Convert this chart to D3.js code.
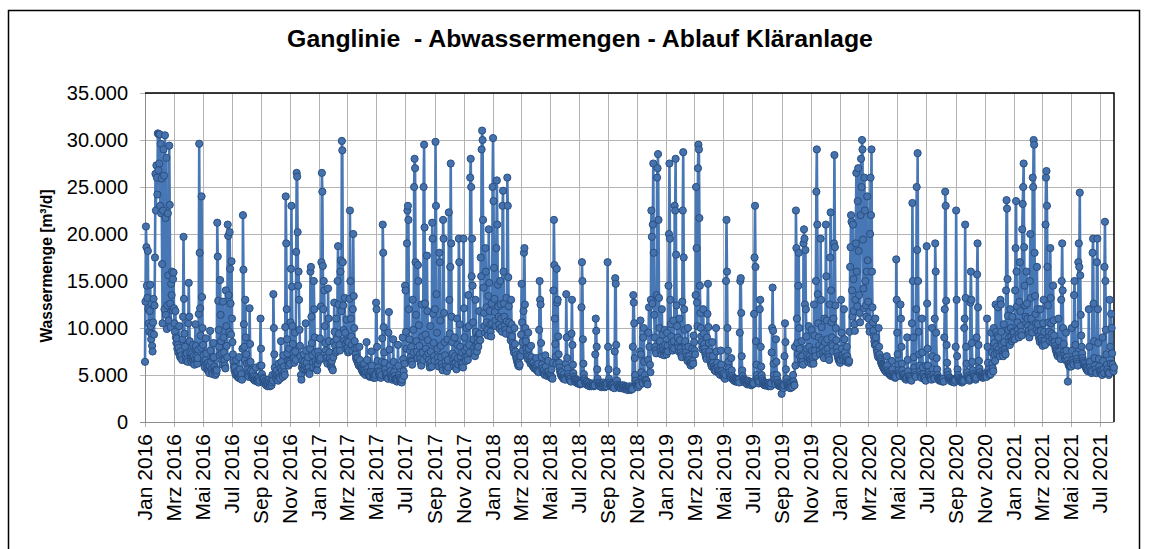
<!DOCTYPE html>
<html>
<head>
<meta charset="utf-8">
<script src="https://cdn.jsdelivr.net/npm/d3@7"></script>
<style>
  body { margin: 0; background: #fff; }
  text { font-family: "Liberation Sans", Arial, sans-serif; }
</style>
</head>
<body>
<div id="chart"></div>
<script>
// daily outflow in 1000 m³/d, one inner array per month
var flow2016 = [
  [6.4,12.8,20.8,18.6,14.5,13.2,18.2,12.0,10.5,9.6,11.8,14.6,10.2,8.8,9.4,8.1,7.5,10.6,13.1,9.3,12.4,17.5,26.4,22.5,27.3,26.0,24.2,30.7,26.8,30.6,27.5],
  [30.6,23.0,29.6,22.2,25.9,16.8,10.5,22.5,29.0,26.2,12.0,30.5,21.7,11.4,28.1,9.9,12.4,22.2,15.6,10.8,29.4,23.1,12.6,10.1,14.7,13.5,16.0,11.9,15.2],
  [15.9,12.1,10.5,9.6,11.8,9.0,8.4,8.9,7.8,8.2,7.4,7.9,10.2,7.2,6.9,7.5,6.8,7.1,6.6,8.8,11.2,19.7,13.1,9.4,8.0,7.2,6.9,6.5,7.3,6.7,6.4],
  [10.5,14.8,11.2,8.6,7.4,6.8,6.5,7.2,6.3,6.9,8.2,7.0,6.4,6.1,6.7,10.4,8.1,7.0,6.6,6.2,6.8,7.7,11.5,29.6,18.0,12.1,9.2,7.9,24.0,13.3],
  [10.0,8.2,7.1,6.5,6.0,5.8,6.6,8.9,7.3,6.2,5.7,5.5,6.3,5.4,5.2,6.0,9.7,7.6,6.4,5.6,5.3,5.1,6.8,8.4,6.9,5.9,5.4,5.0,5.6,5.2,5.5],
  [21.2,17.6,12.9,9.8,8.0,7.1,15.1,11.4,8.6,7.3,6.5,6.1,12.8,9.0,7.4,6.6,6.0,5.7,14.0,10.2,8.1,6.9,21.0,19.8,13.5,9.6,20.2,16.3,12.6,9.3],
  [17.1,11.0,8.5,7.2,6.4,5.9,5.5,5.8,5.2,5.0,6.6,5.4,4.9,4.8,5.3,4.7,6.9,5.6,4.9,4.6,4.8,5.1,4.5,7.8,22.0,16.2,10.4,8.0,6.6,13.0,9.0],
  [7.2,6.2,5.6,5.2,5.0,4.8,6.3,12.1,8.3,6.4,5.5,5.0,4.8,4.7,5.4,4.6,4.5,4.9,4.4,4.6,5.8,4.8,4.5,4.3,4.6,4.4,4.2,4.7,4.4,6.0,11.0],
  [7.8,6.0,5.1,4.7,4.5,4.3,4.6,4.2,4.1,4.4,4.0,3.9,4.3,4.1,3.8,4.0,4.5,4.2,3.9,3.8,4.1,4.4,3.9,4.2,5.0,4.4,13.6,10.0,7.2,5.8],
  [5.1,4.8,4.6,5.5,4.9,4.6,4.4,6.2,5.2,4.8,4.6,5.7,8.6,6.4,5.5,5.0,4.8,7.1,5.9,5.3,5.0,10.1,24.0,19.0,12.0,8.8,7.3,6.5,6.0,7.8,6.4],
  [6.2,10.6,16.3,23.0,14.4,10.2,8.3,7.4,6.8,6.3,9.5,7.5,6.6,18.1,26.5,26.1,20.2,14.5,16.0,13.0,9.8,8.1,7.0,5.0,4.5,5.8,6.5,6.1,5.6,7.2],
  [6.4,5.9,5.6,10.5,7.6,6.3,5.7,5.4,6.9,5.8,5.3,5.1,7.8,16.0,16.5,11.2,8.4,7.1,6.3,5.8,15.0,12.0,9.0,7.4,6.5,6.0,5.6,5.5,6.2,7.5,6.6]
];
var flow2017 = [
  [7.0,6.6,8.9,6.8,12.3,17.0,26.5,24.5,16.6,12.0,15.0,14.0,10.2,8.4,7.6,7.1,6.8,6.4,6.2,14.2,11.0,8.6,7.4,6.8,6.3,6.0,5.8,6.5,5.7,5.5,6.9],
  [8.5,12.7,9.6,8.1,7.4,11.0,8.8,7.6,15.0,18.7,12.5,9.4,8.2,7.6,16.0,17.2,11.8,29.9,28.9,17.0,12.4,9.8,8.7,13.2,9.5,8.3,7.8,10.9],
  [8.6,7.9,7.4,8.5,7.6,13.1,22.5,15.0,11.0,9.1,8.2,7.6,12.0,20.0,13.4,10.0,8.6,7.8,7.2,6.8,6.6,7.9,6.8,6.3,6.1,6.0,8.0,6.6,6.0,5.8,5.7],
  [5.6,5.4,5.5,5.3,5.2,6.2,5.5,5.1,5.0,5.3,8.5,6.6,5.7,5.3,5.0,4.9,5.2,4.8,4.9,5.4,7.5,6.0,5.3,5.0,4.8,4.7,5.1,4.9,4.7,5.0],
  [12.7,12.0,8.0,6.5,5.8,5.4,5.1,4.9,5.3,4.8,4.7,5.0,6.4,8.9,21.0,18.0,10.1,7.4,6.3,5.6,5.2,4.9,4.8,5.1,4.7,4.6,9.5,11.7,7.7,6.0,5.4],
  [5.0,4.8,4.6,4.5,4.7,8.8,6.4,5.3,4.9,4.6,4.5,4.4,4.6,4.3,4.5,8.2,6.0,5.0,4.7,4.5,4.3,4.4,4.6,4.2,4.5,9.0,6.7,5.4,4.9,6.2],
  [14.5,14.0,9.6,7.8,19.0,22.5,23.0,21.5,12.0,8.8,7.6,6.9,6.5,8.0,6.4,6.1,13.0,9.8,7.4,25.0,28.0,27.0,17.0,11.4,8.6,7.5,6.8,16.7,15.0,10.3,8.1],
  [7.2,6.7,6.3,6.0,12.5,9.1,7.4,6.6,25.0,29.5,20.7,12.6,9.3,7.8,7.0,17.7,11.8,8.7,7.3,6.6,6.1,5.8,10.2,7.5,6.4,5.9,21.2,19.5,11.5,8.4,7.0],
  [6.5,12.0,29.8,23.0,13.6,9.5,7.8,6.9,6.3,5.9,18.0,17.0,10.8,8.1,6.9,6.2,5.8,5.5,21.5,19.5,11.6,8.5,7.1,6.4,5.9,5.6,5.4,8.8,6.6,5.8],
  [22.3,13.0,9.4,16.5,27.5,19.0,11.2,8.5,7.3,6.6,6.2,5.9,9.0,7.0,6.2,5.8,5.6,11.0,8.2,6.8,6.1,19.5,17.0,10.4,8.0,6.9,6.3,5.9,7.4,6.2,5.8],
  [19.5,12.1,9.0,7.6,6.9,6.5,10.0,7.9,7.0,6.6,13.5,10.2,8.2,7.4,26.0,28.0,25.0,15.5,19.5,14.5,10.6,8.8,7.9,7.4,7.0,13.0,9.6,8.2,7.5,8.9],
  [8.4,8.0,9.3,11.8,9.4,8.7,17.5,15.5,29.0,31.0,30.0,21.5,14.3,11.6,10.2,9.5,18.5,16.0,12.2,10.6,9.8,9.2,13.4,20.5,14.8,11.8,10.4,9.6,9.1,12.6,10.5]
];
var flow2018 = [
  [25.0,30.2,23.5,16.4,13.1,11.7,10.8,10.2,18.5,25.7,21.0,14.6,12.3,11.2,10.4,9.9,15.0,12.5,11.0,10.1,9.6,23.0,24.6,16.0,12.6,11.2,10.3,9.8,9.4,13.2,10.7],
  [26.0,23.0,15.4,12.3,10.6,9.8,9.2,8.7,13.0,10.4,9.1,8.4,8.0,7.7,7.4,10.0,8.3,7.5,7.1,6.8,6.6,6.4,6.2,6.0,6.3,5.9,6.1,7.2],
  [7.0,9.3,14.7,10.6,8.5,7.6,11.8,18.0,18.5,12.5,10.0,8.6,7.8,7.3,7.0,6.7,9.5,7.8,7.0,6.6,6.4,6.2,8.1,6.9,6.4,6.1,5.9,6.3,5.8,5.7,6.0],
  [5.8,5.6,6.8,5.9,5.5,5.4,6.2,5.3,9.8,15.0,13.0,12.5,8.4,6.9,6.1,5.7,5.4,5.2,5.5,5.1,5.0,7.1,5.9,5.3,5.0,4.9,5.2,6.5,5.4,5.0],
  [4.9,4.8,5.0,4.7,5.6,4.8,4.6,6.3,14.0,21.5,16.7,11.0,8.3,7.0,6.2,16.3,12.7,13.0,9.1,7.2,6.3,5.8,5.4,5.2,5.0,4.9,5.3,4.8,4.7,4.6,5.1],
  [4.7,4.6,4.5,6.2,13.6,9.0,6.8,5.7,5.1,4.8,4.6,4.5,4.4,4.6,4.3,9.4,13.0,8.2,6.1,5.2,4.8,4.6,4.5,4.3,4.4,4.2,4.5,4.3,4.1,4.4],
  [4.2,4.1,4.3,4.0,4.2,4.1,12.2,17.0,15.0,8.8,6.2,5.1,4.6,4.4,4.2,4.1,4.0,4.3,4.1,3.9,4.0,4.2,3.9,3.8,4.0,4.1,3.9,3.8,4.0,3.9,4.1],
  [3.9,3.8,4.0,3.9,7.2,11.0,9.7,8.0,5.6,4.6,4.2,4.0,3.9,3.8,4.1,3.9,3.8,3.7,4.0,3.9,3.8,4.2,4.0,3.9,3.7,3.8,4.0,3.9,3.8,4.1,17.0],
  [8.0,5.6,4.6,4.2,4.0,3.9,3.8,4.0,3.9,3.7,3.8,3.9,3.7,3.6,7.5,15.3,14.7,8.2,5.4,4.4,4.0,3.8,3.7,3.9,3.8,3.6,3.7,3.8,3.6,3.9],
  [3.8,3.7,3.6,3.9,3.7,3.5,3.6,3.8,3.7,3.5,3.6,3.4,3.7,3.6,3.5,3.8,3.6,3.4,3.5,3.7,3.6,3.5,8.0,13.5,12.7,10.5,6.8,5.0,4.4,4.1,3.9],
  [3.8,3.9,3.7,4.0,4.2,3.9,7.5,10.8,7.2,5.3,4.6,4.3,4.1,9.0,10.0,6.4,5.0,4.5,4.3,4.2,4.4,4.1,4.0,6.6,9.5,12.2,8.0,6.1,5.3,13.0],
  [22.5,19.7,12.6,21.0,27.5,18.0,11.4,9.0,8.0,7.6,7.3,13.5,26.0,27.0,28.5,21.5,13.2,10.0,8.6,7.9,7.5,7.2,12.0,9.3,8.0,7.6,7.3,7.1,9.8,8.2,7.5]
];
var flow2019 = [
  [7.4,7.2,9.5,8.1,7.5,14.5,20.0,27.5,19.5,13.0,10.4,9.1,8.4,7.9,7.6,10.8,8.6,7.8,23.0,22.5,28.0,17.8,12.4,10.2,9.0,8.3,7.9,7.5,11.0,8.7,7.8],
  [7.4,7.1,6.9,12.8,22.5,28.7,17.5,12.0,9.8,8.6,7.9,7.4,7.0,6.7,6.5,10.0,8.0,7.0,6.6,6.3,6.1,6.0,6.4,6.2,7.8,6.5,6.2,9.2],
  [8.5,7.6,7.2,13.5,25.0,18.5,12.7,10.2,27.0,29.5,29.0,21.7,14.5,11.6,10.0,9.1,8.5,8.0,7.7,12.0,9.4,8.3,7.8,7.4,7.1,6.9,6.7,9.0,11.5,14.7,10.1],
  [8.4,7.5,7.0,6.6,6.3,6.1,5.9,8.5,7.0,6.3,5.9,5.7,5.5,5.6,5.4,10.0,7.5,6.3,5.8,5.5,5.3,5.2,5.4,5.1,5.0,7.6,6.1,5.4,5.1,5.0],
  [4.9,4.8,5.2,4.7,4.6,5.0,15.0,21.5,16.0,10.0,7.6,6.4,5.7,5.3,5.0,4.8,4.7,6.8,5.5,4.9,4.6,4.5,4.7,4.4,4.6,4.5,4.3,4.4,4.6,4.3,4.5],
  [4.4,4.3,4.5,4.2,9.5,15.0,15.3,11.6,7.0,5.5,4.9,4.6,4.4,4.3,4.5,4.2,4.4,4.3,4.1,4.2,4.0,4.4,4.2,4.1,4.3,4.0,4.1,4.2,3.9,4.1],
  [4.2,4.0,4.3,4.1,11.5,17.5,23.0,16.5,8.6,6.1,5.0,4.6,4.4,4.2,4.1,4.3,12.0,13.0,8.0,5.9,5.0,4.6,4.4,4.2,4.0,4.1,3.9,4.2,4.0,3.9,4.1],
  [4.0,3.9,4.1,3.8,4.0,3.9,4.2,4.0,3.8,4.1,7.4,10.0,14.3,9.7,6.2,5.0,4.5,4.2,4.0,8.8,6.4,5.0,4.5,4.2,4.0,3.9,4.1,3.8,3.9,4.0,3.8],
  [3.0,3.7,3.9,3.8,3.6,3.9,7.0,10.5,8.5,5.6,4.6,4.2,4.0,3.8,3.9,3.7,4.0,3.8,3.6,3.9,4.2,3.8,3.7,4.4,5.0,4.3,4.0,3.9,8.0,6.0],
  [22.5,18.5,11.0,8.4,7.2,14.5,18.0,10.0,7.8,6.9,6.5,6.2,8.6,7.0,6.4,6.1,19.0,20.5,19.5,12.5,18.3,12.0,9.1,7.8,7.1,6.7,6.4,10.2,8.0,7.0,6.6],
  [6.4,6.2,9.8,7.6,6.8,6.4,6.2,12.5,9.2,7.6,7.0,15.0,24.5,29.0,21.0,13.6,10.5,9.0,8.2,7.6,7.2,19.5,13.0,10.1,8.7,7.9,7.4,7.0,6.8,11.0],
  [8.5,7.6,21.0,15.5,10.8,8.8,7.8,7.2,6.9,6.6,12.5,17.5,22.3,14.0,10.6,9.0,8.1,7.5,11.0,19.0,28.4,18.6,12.4,10.0,8.7,7.9,7.4,7.0,6.8,6.6,6.5]
];
var flow2020 = [
  [6.4,6.3,6.6,13.0,9.5,7.8,7.1,6.8,6.6,12.0,8.8,7.4,6.9,6.6,6.4,8.0,7.0,6.6,6.4,6.3,6.5,9.6,16.5,18.6,22.0,21.3,14.0,11.2,21.0,15.2,11.8],
  [10.4,9.7,13.0,19.0,26.5,16.0,12.3,23.5,27.0,18.2,13.5,11.6,10.6,22.0,28.0,25.0,30.0,29.0,19.4,14.2,12.1,26.0,22.5,15.0,12.4,11.2,16.0,24.0,17.2],
  [12.8,11.0,10.2,9.6,20.0,26.0,22.0,29.0,16.0,12.2,10.6,9.7,9.1,8.6,8.2,11.0,9.0,8.2,7.7,7.4,7.1,6.9,10.0,8.0,7.2,6.8,6.6,6.4,6.2,6.1,6.0],
  [5.9,5.8,5.7,5.6,5.5,5.6,5.4,5.3,7.0,6.0,5.5,5.3,5.2,5.1,5.3,5.0,5.1,4.9,5.0,6.5,5.6,5.1,4.9,4.8,5.0,4.9,4.7,4.8,17.3,13.0],
  [9.5,7.2,6.1,5.5,5.2,5.0,4.9,12.5,11.0,8.0,6.2,5.5,5.1,4.9,4.8,5.0,4.7,4.6,4.8,4.5,4.7,9.0,6.6,5.4,4.9,4.7,4.6,4.8,4.5,4.6,4.4],
  [10.5,23.3,15.0,9.0,6.9,5.8,5.3,5.0,4.8,12.0,25.0,18.3,28.6,15.0,9.6,7.2,6.0,5.4,5.0,4.8,4.7,11.0,7.4,5.8,5.1,4.8,4.6,4.5,4.7,4.4],
  [6.0,18.7,12.6,7.8,6.0,5.3,5.0,4.8,4.7,4.6,4.8,4.5,10.0,7.0,5.6,5.0,4.7,4.6,11.0,19.0,16.0,9.5,6.8,5.6,5.0,4.7,4.6,4.5,4.4,4.6,4.5],
  [4.4,4.6,4.5,4.3,4.4,4.6,4.3,9.0,12.0,24.5,23.0,12.9,8.2,6.3,5.4,5.0,4.7,4.6,4.5,4.7,4.4,4.5,4.3,4.6,4.4,4.3,4.5,4.4,4.2,4.5,4.4],
  [8.0,22.5,13.0,7.0,5.6,5.0,4.7,4.5,4.4,4.6,4.3,4.5,4.4,4.2,4.4,4.3,4.5,4.4,10.0,11.0,21.0,13.2,8.0,6.2,5.3,4.9,4.7,4.5,4.6,4.4],
  [4.6,12.7,16.0,13.0,8.4,6.4,5.5,5.1,4.9,4.7,4.8,4.6,4.5,4.7,9.0,15.7,19.0,12.2,8.2,6.5,5.7,5.3,5.0,4.9,4.8,5.1,4.9,4.7,4.8,5.0,4.9],
  [5.0,4.9,5.2,5.0,4.8,11.0,8.0,6.3,5.6,5.2,5.1,5.0,5.3,5.1,9.5,7.4,6.2,5.7,5.4,10.0,8.4,7.2,6.5,12.5,9.6,8.0,7.3,9.2,12.2,9.0],
  [7.8,7.3,7.0,13.0,12.5,9.6,8.2,7.6,7.2,7.0,10.4,8.5,7.7,7.4,7.2,14.0,23.6,22.7,15.2,11.3,9.8,9.0,8.5,8.2,12.0,10.0,9.1,8.6,11.2,9.6,8.8]
];
var flow2021 = [
  [9.5,9.0,8.8,14.0,18.5,23.5,16.0,12.3,10.6,9.8,9.3,9.0,12.8,17.0,11.8,10.2,9.6,9.2,20.5,23.2,25.0,27.5,18.6,14.5,12.4,11.2,10.5,16.0,12.6,11.0,10.2],
  [9.7,9.3,9.0,15.0,20.0,13.2,11.0,10.0,9.5,26.0,25.0,30.0,29.5,18.0,13.4,11.5,10.5,9.8,16.5,12.0,10.4,9.6,9.1,8.8,8.5,12.0,9.7,8.9],
  [8.6,8.3,8.1,10.5,13.0,9.6,8.6,8.2,21.0,26.0,26.7,23.0,16.5,12.4,10.6,9.6,9.0,8.6,18.5,13.2,10.5,9.4,8.8,8.4,14.5,10.8,9.2,8.5,8.1,7.8,7.6],
  [7.5,7.3,7.1,7.0,11.0,8.6,7.5,7.1,6.9,6.7,13.0,15.0,19.0,14.0,10.0,8.3,7.5,7.1,6.8,6.6,9.5,7.6,6.9,6.5,4.3,6.2,6.0,6.1,5.9,6.2],
  [6.0,5.9,10.0,7.6,6.6,6.3,6.1,13.5,15.0,10.4,8.2,7.2,6.7,6.4,6.2,6.0,17.0,19.0,16.5,24.4,15.6,11.4,9.2,8.0,7.3,6.8,6.5,6.3,6.1,6.0,6.2],
  [5.9,5.8,5.6,5.7,5.5,5.4,5.6,12.0,8.0,6.4,5.8,5.5,5.3,5.2,5.4,18.0,19.5,12.6,8.6,6.8,6.0,5.6,5.3,5.2,17.0,19.5,12.0,8.4,6.7,5.9],
  [5.5,5.3,5.2,5.4,5.1,5.0,9.0,6.5,5.6,5.2,16.5,21.3,15.0,9.8,7.2,6.1,5.6,5.3,5.1,5.0,5.2,13.0,8.0,6.2,11.5,10.0,7.3,6.1,5.6,5.4,5.8]
];

var years = [2016, 2017, 2018, 2019, 2020, 2021];
var flowByYear = [flow2016, flow2017, flow2018, flow2019, flow2020, flow2021];
var monthNames = ["Jan", "Feb", "Mrz", "Apr", "Mai", "Jun", "Jul", "Aug", "Sep", "Okt", "Nov", "Dez"];
var yTicks = [0, 5000, 10000, 15000, 20000, 25000, 30000, 35000];
var chartTitle = "Ganglinie  - Abwassermengen - Ablauf Kläranlage";
var yAxisTitle = "Wassermenge [m³/d]";

var svgWidth = 1152;
var svgHeight = 549;
var plot = { left: 145, right: 1114, top: 93, bottom: 422 };

// flatten the monthly arrays into dated points
var flowData = [];
flowByYear.forEach(function(months, yi) {
  months.forEach(function(vals, m) {
    var start = new Date(years[yi], m, 1);
    var days = new Date(years[yi], m + 1, 0).getDate();
    vals.forEach(function(v, i) {
      flowData.push({ date: new Date(start.getTime() + i * days / vals.length * 864e5), value: v * 1000 });
    });
  });
});

var de = d3.formatLocale({ decimal: ",", thousands: ".", grouping: [3], currency: ["", " €"] });
var fmt = de.format(",");

var svg = d3.select("#chart")
  .append("svg")
  .attr("width", svgWidth)
  .attr("height", svgHeight);

svg.append("rect")
  .attr("x", 0).attr("y", 0)
  .attr("width", svgWidth).attr("height", svgHeight)
  .attr("fill", "#fff");

// outer chart border
svg.append("rect")
  .attr("x", 8.5).attr("y", 10.5)
  .attr("width", 1131).attr("height", 545)
  .attr("fill", "none")
  .attr("stroke", "#000")
  .attr("stroke-width", 1.5);

var x = d3.scaleTime()
  .domain([new Date(2016, 0, 1), new Date(2021, 6, 31)])
  .range([plot.left, plot.right]);

var y = d3.scaleLinear()
  .domain([0, 35000])
  .range([plot.bottom, plot.top]);

var xTicks = d3.timeMonth.every(2).range(new Date(2016, 0, 1), new Date(2021, 7, 1));

// gridlines
svg.append("g")
  .selectAll("line")
  .data(yTicks)
  .enter()
  .append("line")
  .attr("x1", plot.left - 5).attr("x2", plot.right)
  .attr("y1", d => Math.round(y(d)) + 0.5).attr("y2", d => Math.round(y(d)) + 0.5)
  .attr("stroke", "#b4b4b4");

svg.append("g")
  .selectAll("line")
  .data(xTicks)
  .enter()
  .append("line")
  .attr("x1", d => Math.round(x(d)) + 0.5).attr("x2", d => Math.round(x(d)) + 0.5)
  .attr("y1", plot.top).attr("y2", plot.bottom + 5)
  .attr("stroke", "#b4b4b4");

// axes lines
svg.append("line")
  .attr("x1", plot.left + 0.5).attr("x2", plot.left + 0.5)
  .attr("y1", plot.top).attr("y2", plot.bottom)
  .attr("stroke", "#8c8c8c");
svg.append("line")
  .attr("x1", plot.left - 5).attr("x2", plot.right)
  .attr("y1", plot.bottom + 0.5).attr("y2", plot.bottom + 0.5)
  .attr("stroke", "#8c8c8c");

// plot border top/right
svg.append("path")
  .attr("d", `M${plot.left},${plot.top} H${plot.right} V${plot.bottom}`)
  .attr("fill", "none")
  .attr("stroke", "#000")
  .attr("stroke-width", 1.5);

// y tick labels
svg.append("g")
  .selectAll("text")
  .data(yTicks)
  .enter()
  .append("text")
  .attr("x", 128)
  .attr("y", d => y(d))
  .attr("dy", "0.35em")
  .attr("text-anchor", "end")
  .attr("font-size", 20)
  .attr("fill", "#000")
  .text(d => fmt(d));

// x tick labels
svg.append("g")
  .selectAll("text")
  .data(xTicks)
  .enter()
  .append("text")
  .attr("transform", d => `translate(${x(d)}, 434) rotate(-90)`)
  .attr("dy", "0.35em")
  .attr("text-anchor", "end")
  .attr("font-size", 21)
  .attr("fill", "#000")
  .text(d => monthNames[d.getMonth()] + " " + d.getFullYear());

// series
var line = d3.line()
  .x(d => x(d.date))
  .y(d => y(d.value));

svg.append("path")
  .datum(flowData)
  .attr("d", line)
  .attr("fill", "none")
  .attr("stroke", "#4777b4")
  .attr("stroke-width", 2.6)
  .attr("stroke-linejoin", "round");

svg.append("g")
  .selectAll("circle")
  .data(flowData)
  .enter()
  .append("circle")
  .attr("cx", d => x(d.date))
  .attr("cy", d => y(d.value))
  .attr("r", 3.6)
  .attr("fill", "#4572ad")
  .attr("stroke", "#294f82")
  .attr("stroke-width", 1);

// titles
svg.append("text")
  .attr("transform", "translate(580, 47) scale(1.08, 1)")
  .attr("text-anchor", "middle")
  .attr("font-size", 23)
  .attr("font-weight", "bold")
  .style("white-space", "pre")
  .text(chartTitle);

svg.append("text")
  .attr("transform", "translate(52, 266) rotate(-90) scale(0.92, 1)")
  .attr("text-anchor", "middle")
  .attr("font-size", 17)
  .attr("font-weight", "bold")
  .text(yAxisTitle);
</script>
</body>
</html>
